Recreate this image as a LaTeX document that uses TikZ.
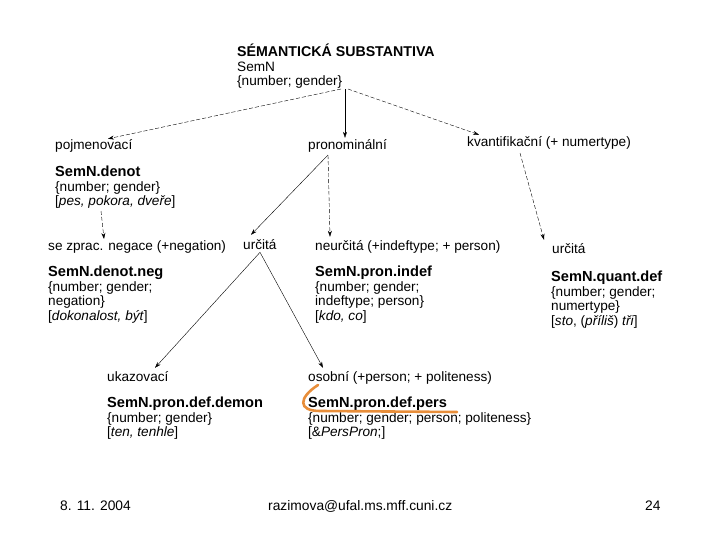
\documentclass[tikz,border=0pt]{standalone}
\usepackage{fontspec}
\setmainfont{Liberation Sans}
\usetikzlibrary{arrows.meta}
\definecolor{penorange}{RGB}{232, 142, 58}
\newcommand{\hd}{\fontsize{14.6}{15}\selectfont\bfseries}

\begin{document}
\begin{tikzpicture}[x=1pt, y=-1pt,
  txt/.style={inner sep=0pt, font=\fontsize{13.6}{14.6}\selectfont},
  cat/.style={txt, anchor=base west},
  blk/.style={txt, anchor=north west, align=left},
  foot/.style={inner sep=0pt, anchor=base west, font=\fontsize{13.8}{14}\selectfont},
  arr/.style={-{Stealth[length=6pt, width=4pt]}, thin},
  darr/.style={arr, dash pattern=on 4pt off 2pt}]
  \useasboundingbox (0,0) rectangle (720,540);
  % top
  \node[blk] (sem) at (237,44) {{\fontsize{14.2}{15}\selectfont\bfseries SÉMANTICKÁ SUBSTANTIVA}\\SemN\\\{number; gender\}};
  \node[cat] (pojm) at (55,150) {pojmenovací};
  \node[cat] (pron) at (308,150) {pronominální};
  \node[cat] (kvant) at (467,147) {kvantifikační (+ numertype)};
  \node[blk] (denot) at (55,166) {{\hd SemN.denot}\\\{number; gender\}\\{[}\textit{pes, pokora, dveře}{]}};
  % second level
  \node[cat] (negcat) at (48,250) {se zprac. negace (+negation)};
  \node[cat] (defcat) at (243,249) {určitá};
  \node[cat] (indefcat) at (315,250) {neurčitá (+indeftype; + person)};
  \node[cat] (qdefcat) at (552,254) {určitá};
  \node[blk] (neg) at (48,266) {{\hd SemN.denot.neg}\\\{number; gender;\\negation\}\\{[}\textit{dokonalost, být}{]}};
  \node[blk] (indef) at (315,266) {{\hd SemN.pron.indef}\\\{number; gender;\\indeftype; person\}\\{[}\textit{kdo, co}{]}};
  \node[blk] (qdef) at (551,271) {{\hd SemN.quant.def}\\\{number; gender;\\numertype\}\\{[}\textit{sto}, (\textit{příliš}) \textit{tři}{]}};
  % third level
  \node[cat] (demcat) at (107,381) {ukazovací};
  \node[cat] (perscat) at (308,381) {osobní (+person; + politeness)};
  \node[blk] (demon) at (107,397) {{\hd SemN.pron.def.demon}\\\{number; gender\}\\{[}\textit{ten, tenhle}{]}};
  \node[blk] (pers) at (308,397) {{\hd SemN.pron.def.pers}\\\{number; gender; person; politeness\}\\{[}\&\textit{PersPron};{]}};
  % connectors
  \draw[darr] ([xshift=104pt]sem.south west) -- ([xshift=53pt, yshift=1pt]pojm.north west);
  \draw[arr] ([xshift=108pt]sem.south west) -- ([xshift=37pt, yshift=2pt]pron.north west);
  \draw[darr] ([xshift=111pt]sem.south west) -- ([xshift=12pt, yshift=2pt]kvant.north west);
  \draw[darr] ([xshift=46pt, yshift=-2pt]denot.south west) -- ([xshift=56pt, yshift=1pt]negcat.north west);
  \draw[arr] ([xshift=20pt, yshift=-2pt]pron.south west) -- ([xshift=8pt, yshift=4pt]defcat.north west);
  \draw[darr] ([xshift=20pt, yshift=-2pt]pron.south west) -- ([xshift=15pt, yshift=3pt]indefcat.north west);
  \draw[darr] ([xshift=53pt, yshift=-3pt]kvant.south west) -- ([xshift=-8pt, yshift=4pt]qdefcat.north west);
  \draw[arr] ([xshift=17pt, yshift=-3pt]defcat.south west) -- ([xshift=48pt, yshift=3pt]demcat.north west);
  \draw[arr] ([xshift=17pt, yshift=-3pt]defcat.south west) -- ([xshift=15pt, yshift=3pt]perscat.north west);
  % hand mark
  \draw[penorange, line width=2.6pt, line cap=round] (318,385) .. controls (298,398) and (298,411) .. (320,411) -- (457,412);
  % footer
  \node[foot] (date) at (60,510) {8. 11. 2004};
  \node[foot] (mail) at (268,510) {razimova@ufal.ms.mff.cuni.cz};
  \node[foot] (page) at (645,510) {24};
\end{tikzpicture}
\end{document}
